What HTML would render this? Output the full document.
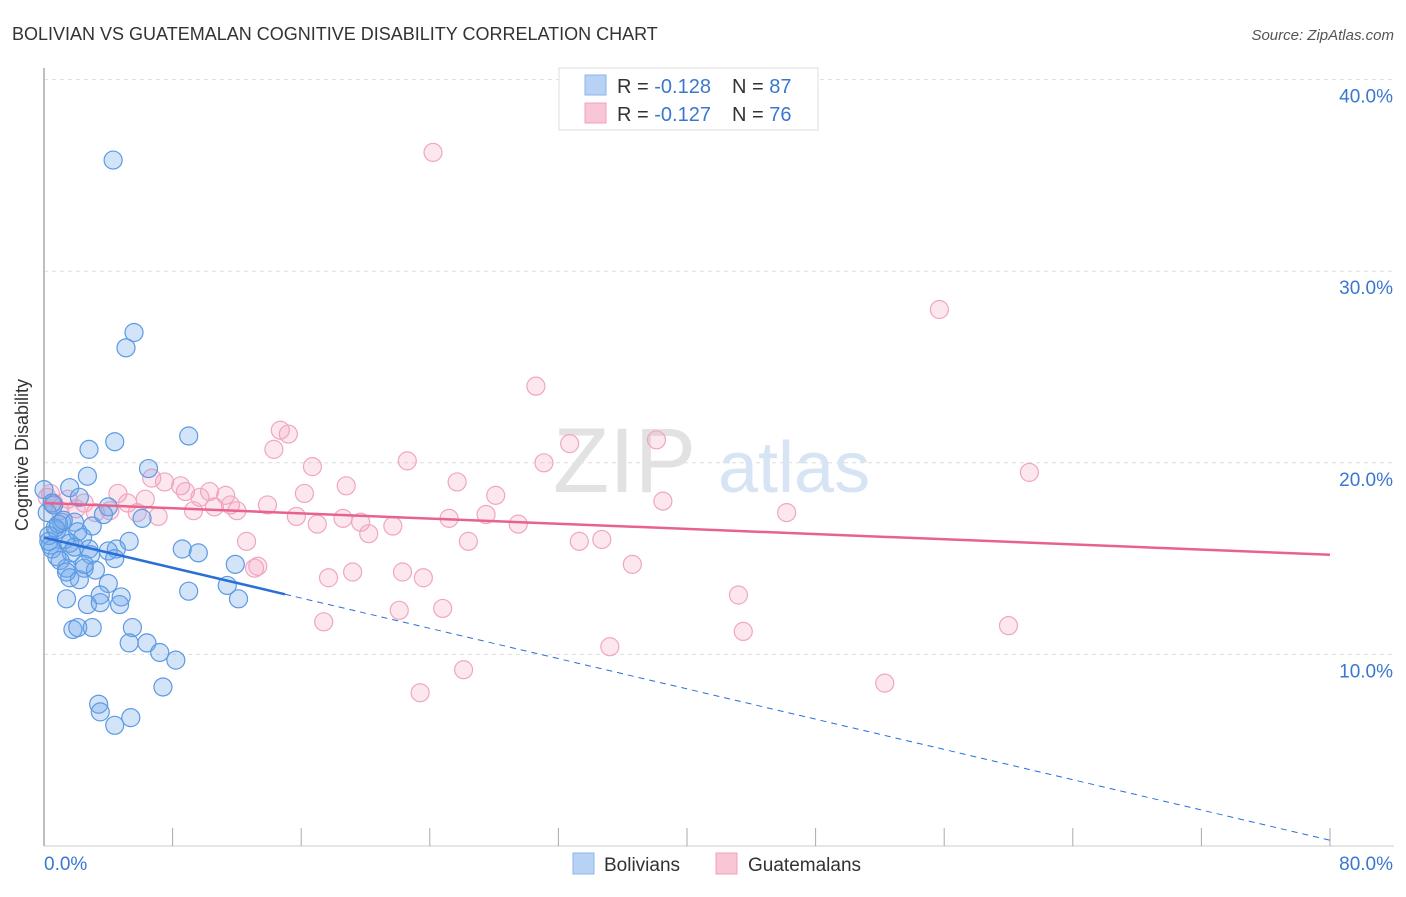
<!DOCTYPE html>
<html><head><meta charset="utf-8"><style>
body{margin:0;background:#fff;font-family:"Liberation Sans",sans-serif;}
svg text{font-family:"Liberation Sans",sans-serif;}
</style></head><body>
<svg id="chart" width="1406" height="892" xmlns="http://www.w3.org/2000/svg">
<text x="12" y="40" font-size="18" fill="#333">BOLIVIAN VS GUATEMALAN COGNITIVE DISABILITY CORRELATION CHART</text>
<text x="1394" y="40" font-size="15" fill="#555" font-style="italic" text-anchor="end">Source: ZipAtlas.com</text>
<g id="grid"></g>
<g>
<text x="553" y="492" font-size="92" fill="#e2e2e2" font-family="Liberation Serif, serif">ZIP</text>
<text x="718" y="492" font-size="72" fill="#d6e4f4">atlas</text>
</g>
<g id="axes"></g>
<g id="pts"></g>
<g id="lines"></g>
<text x="28" y="455" font-size="18" fill="#333" text-anchor="middle" transform="rotate(-90 28 455)">Cognitive Disability</text>
<g>
<rect x="559" y="68" width="259" height="62" fill="#fff" stroke="#ddd"/>
<rect x="585" y="75" width="21" height="20" fill="#b7d2f4" stroke="#8cb4e8"/>
<rect x="585" y="103" width="21" height="20" fill="#f9c6d6" stroke="#f0a0bc"/>
<text x="617" y="93" font-size="20" fill="#333">R = <tspan fill="#3a77d0">-0.128</tspan><tspan x="732">N = </tspan><tspan fill="#3a77d0">87</tspan></text>
<text x="617" y="121" font-size="20" fill="#333">R = <tspan fill="#3a77d0">-0.127</tspan><tspan x="732">N = </tspan><tspan fill="#3a77d0">76</tspan></text>
</g>
<g>
<rect x="573" y="853" width="21" height="21" fill="#b7d2f4" stroke="#8cb4e8"/>
<text x="604" y="871" font-size="19" fill="#333">Bolivians</text>
<rect x="716" y="853" width="21" height="21" fill="#f9c6d6" stroke="#f0a0bc"/>
<text x="748" y="871" font-size="19" fill="#333">Guatemalans</text>
</g>
</svg>
<script>
const yTicks=[10,20,30,40];
const yTickLabels=["10.0%","20.0%","30.0%","40.0%"];
const xTickLabels=["0.0%","80.0%"];
const boliviansX=[4.3,5.6,5.1,4.4,9.0,2.8,6.5,2.7,1.6,2.2,0,0.5,4.0,6.1,3.7,1.1,1.9,3.0,0.8,0.4,1.3,2.4,5.3,4.5,4.0,8.6,9.6,0.8,1.7,2.8,4.4,1.4,2.5,3.2,1.6,2.2,11.9,4.0,11.4,9.0,1.4,3.5,4.8,12.1,2.7,3.5,4.7,1.8,2.1,3.0,5.5,5.3,6.4,7.2,8.2,7.4,3.4,3.5,4.4,5.4,0.2,0.7,0.3,0.5,1.6,1.0,0.9,2.1,2.9,2.5,1.2,0.3,0.6,1.4,1.9];
const boliviansY=[35.8,26.8,26.0,21.1,21.4,20.7,19.7,19.3,18.7,18.2,18.6,17.9,17.7,17.1,17.3,16.9,16.9,16.7,16.5,15.7,16.0,16.1,15.9,15.5,15.4,15.5,15.3,15.1,15.3,15.5,15.0,14.5,14.5,14.4,14.0,13.9,14.7,13.7,13.6,13.3,12.9,13.1,13.0,12.9,12.6,12.7,12.6,11.3,11.4,11.4,11.4,10.6,10.6,10.1,9.7,8.3,7.4,7.0,6.3,6.7,17.4,16.6,16.2,15.5,15.8,14.9,16.8,16.4,15.2,14.7,17.0,15.9,17.8,14.3,15.6];
const guatemalansX=[24.2,55.7,30.6,14.7,15.2,14.3,38.1,22.6,32.7,31.1,16.7,25.7,61.3,6.7,7.5,18.8,8.5,4.6,8.8,10.3,11.3,16.2,28.1,6.3,9.7,0.6,1.5,2.5,11.6,5.2,38.5,13.9,10.6,9.3,12.0,4.1,5.8,3.2,46.2,27.5,15.7,7.1,18.6,25.2,17.0,19.7,21.7,29.5,20.2,26.4,12.6,33.3,34.7,36.6,13.1,13.3,19.2,22.3,17.7,23.6,43.2,22.1,24.8,17.4,43.5,60.0,35.2,26.1,52.3,23.4,0.2,1.0,2.0,0.4];
const guatemalansY=[36.2,28.0,24.0,21.7,21.5,20.7,21.2,20.1,21.0,20.0,19.8,19.0,19.5,19.2,19.0,18.8,18.8,18.4,18.5,18.5,18.3,18.4,18.3,18.1,18.2,17.9,18.1,17.9,17.8,17.9,18.0,17.8,17.7,17.5,17.5,17.5,17.4,17.4,17.4,17.3,17.2,17.2,17.1,17.1,16.8,16.9,16.7,16.8,16.3,15.9,15.9,15.9,16.0,14.7,14.5,14.6,14.3,14.3,14.0,14.0,13.1,12.3,12.4,11.7,11.2,11.5,10.4,9.2,8.5,8.0,18.2,17.5,17.6,18.4];
const bolTrend=[16.1,0.3];
const guaTrend=[17.9,15.2];
const NS="http://www.w3.org/2000/svg";
const X0=44,X1=1330,Y0=846,PY=19.16;
function sx(v){return X0+(v/80)*(X1-X0);}
function sy(v){return Y0-v*PY;}
function mk(tag,attrs,parent){const e=document.createElementNS(NS,tag);for(const k in attrs)e.setAttribute(k,attrs[k]);parent.appendChild(e);return e;}
const grid=document.getElementById('grid'),axes=document.getElementById('axes'),pts=document.getElementById('pts'),lines=document.getElementById('lines');
yTicks.forEach((t,i)=>{
 const l=mk('line',{x1:X0,x2:1394,y1:sy(t),y2:sy(t),stroke:'#ddd','stroke-dasharray':'4,4'},grid);
 
 
 const tx=mk('text',{x:1393,y:sy(t)+23,'font-size':19,fill:'#3a77d0','text-anchor':'end'},axes);
 tx.textContent=yTickLabels[i];
 
 
});
const ax=mk('line',{x1:X0,x2:X0,y1:68,y2:Y0,stroke:'#aaa','stroke-width':1.5},axes);


const bx=mk('line',{x1:X0,x2:1394,y1:Y0,y2:Y0,stroke:'#ccc'},axes);


for(let i=0;i<=10;i++){
 const t=mk('line',{x1:sx(i*8),x2:sx(i*8),y1:Y0-18,y2:Y0,stroke:'#aaa'},axes);
 
 
}
[[0,'start',44],[80,'end',1393]].forEach((d,i)=>{
 const t=mk('text',{x:d[2],y:870,'font-size':19,fill:'#3a77d0','text-anchor':d[1]},axes);
 t.textContent=xTickLabels[i];
 
 
});
function dots(xs,ys,fill,stroke,name){
 xs.forEach((x,i)=>{
  const c=mk('circle',{cx:sx(x),cy:sy(ys[i]),r:9,fill:fill,stroke:stroke,'stroke-width':1.2},pts);
  
  
 });
}
dots(guatemalansX,guatemalansY,'rgba(244,160,190,0.25)','#f0a6c0','guatemalan-point');
dots(boliviansX,boliviansY,'rgba(110,165,235,0.3)','#5c9ae2','bolivian-point');
const slope=(bolTrend[1]-bolTrend[0])/80;
const bs=mk('line',{x1:sx(0),y1:sy(bolTrend[0]),x2:sx(15),y2:sy(bolTrend[0]+slope*15),stroke:'#2a6fd6','stroke-width':2.5},lines);


const bd=mk('line',{x1:sx(15),y1:sy(bolTrend[0]+slope*15),x2:sx(80),y2:sy(bolTrend[1]),stroke:'#2a6fd6','stroke-width':1,'stroke-dasharray':'6,5'},lines);


const gl=mk('line',{x1:sx(0),y1:sy(guaTrend[0]),x2:sx(80),y2:sy(guaTrend[1]),stroke:'#e8628e','stroke-width':2.5},lines);


</script>
</body></html>
